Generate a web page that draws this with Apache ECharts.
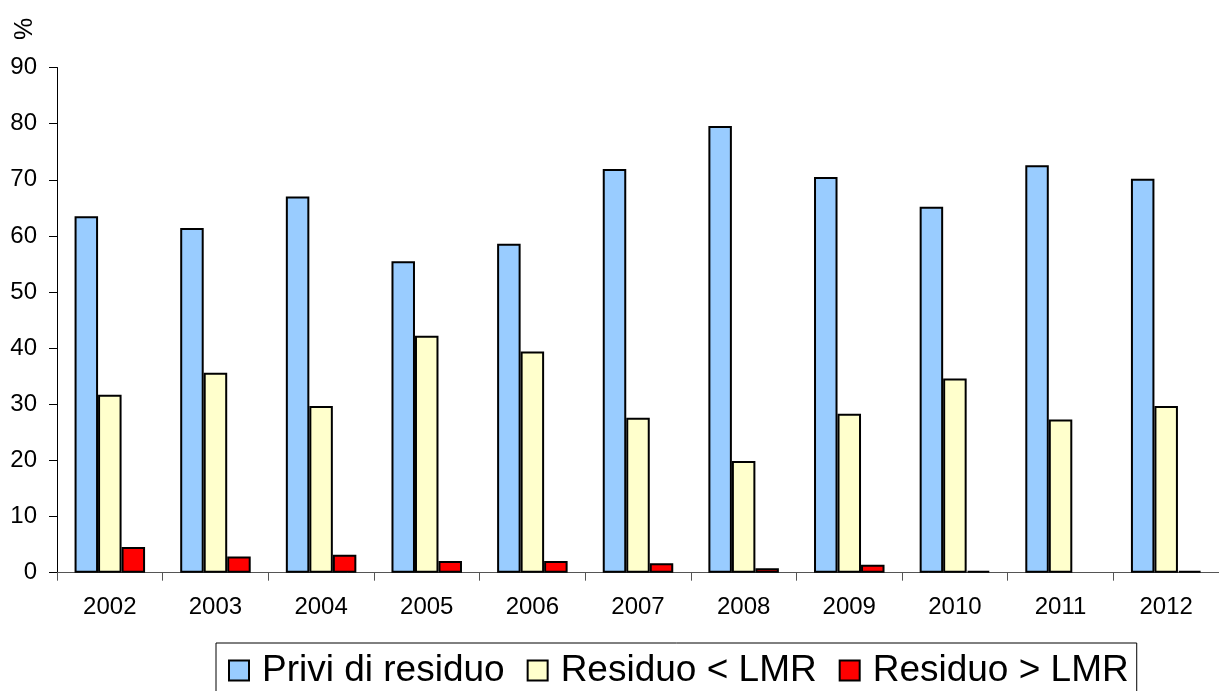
<!DOCTYPE html>
<html>
<head>
<meta charset="utf-8">
<script src="https://cdn.jsdelivr.net/npm/echarts@6/dist/echarts.min.js"></script>
<style>
html,body{margin:0;padding:0;background:#fff;}
#chart{width:1219px;height:691px;}
</style>
</head>
<body>
<div id="chart"></div>
<script>
const categories = ['2002','2003','2004','2005','2006','2007','2008','2009','2010','2011','2012'];
const priviDiResiduo = [63.5, 61.4, 67.0, 55.5, 58.6, 71.9, 79.6, 70.5, 65.2, 72.6, 70.2];
const residuoMinore = [31.7, 35.6, 29.7, 42.2, 39.4, 27.6, 19.9, 28.3, 34.6, 27.3, 29.7];
const residuoMaggiore = [4.6, 2.9, 3.2, 2.1, 2.1, 1.7, 0.8, 1.4, 0.3, null, 0.3];
const seriesNames = ['Privi di residuo', 'Residuo < LMR', 'Residuo > LMR'];
const yTicks = { min: 0, max: 90, interval: 10 };
const yAxisTitle = '%';

const FONT = '"Liberation Sans", Arial, sans-serif';
const chart = echarts.init(document.getElementById('chart'), null, { renderer: 'canvas' });

function barSeries(name, data, color) {
  return {
    name: name,
    type: 'bar',
    data: data,
    barWidth: 23.5,
    barGap: '0%',
    itemStyle: { color: color, borderColor: '#000', borderWidth: 2 },
    emphasis: { disabled: true },
    animation: false
  };
}

chart.setOption({
  animation: false,
  backgroundColor: '#fff',
  grid: { left: 57, top: 67.5, height: 505.2, width: 1172, containLabel: false },
  xAxis: {
    type: 'category',
    data: categories,
    boundaryGap: true,
    axisLine: { show: true, lineStyle: { color: '#555', width: 1 } },
    axisTick: { show: true, alignWithLabel: false, length: 8, lineStyle: { color: '#555', width: 1 } },
    axisLabel: { color: '#000', fontFamily: FONT, fontSize: 24, margin: 23 },
    splitLine: { show: false }
  },
  yAxis: {
    type: 'value',
    min: yTicks.min,
    max: yTicks.max,
    interval: yTicks.interval,
    axisLine: { show: true, lineStyle: { color: '#000', width: 1 } },
    axisTick: { show: true, length: 8, lineStyle: { color: '#000', width: 1 } },
    axisLabel: { color: '#000', fontFamily: FONT, fontSize: 24, margin: 20 },
    splitLine: { show: false }
  },
  legend: {
    show: true,
    left: 216,
    top: 643,
    orient: 'horizontal',
    data: seriesNames,
    icon: 'rect',
    itemWidth: 20,
    itemHeight: 20,
    itemGap: 22,
    padding: [9, 8, 22, 12],
    borderColor: '#000',
    borderWidth: 1,
    selectedMode: false,
    textStyle: { color: '#000', fontFamily: FONT, fontSize: 37, padding: [0, 0, 0, 8] }
  },
  graphic: [{
    type: 'text',
    x: 13,
    y: 40,
    rotation: Math.PI / 2,
    style: { text: yAxisTitle, font: '25px ' + FONT, fill: '#000', textAlign: 'left', textVerticalAlign: 'top' }
  }],
  series: [
    barSeries(seriesNames[0], priviDiResiduo, '#99CCFF'),
    barSeries(seriesNames[1], residuoMinore, '#FFFFCC'),
    barSeries(seriesNames[2], residuoMaggiore, '#FF0000')
  ]
});
</script>
</body>
</html>
